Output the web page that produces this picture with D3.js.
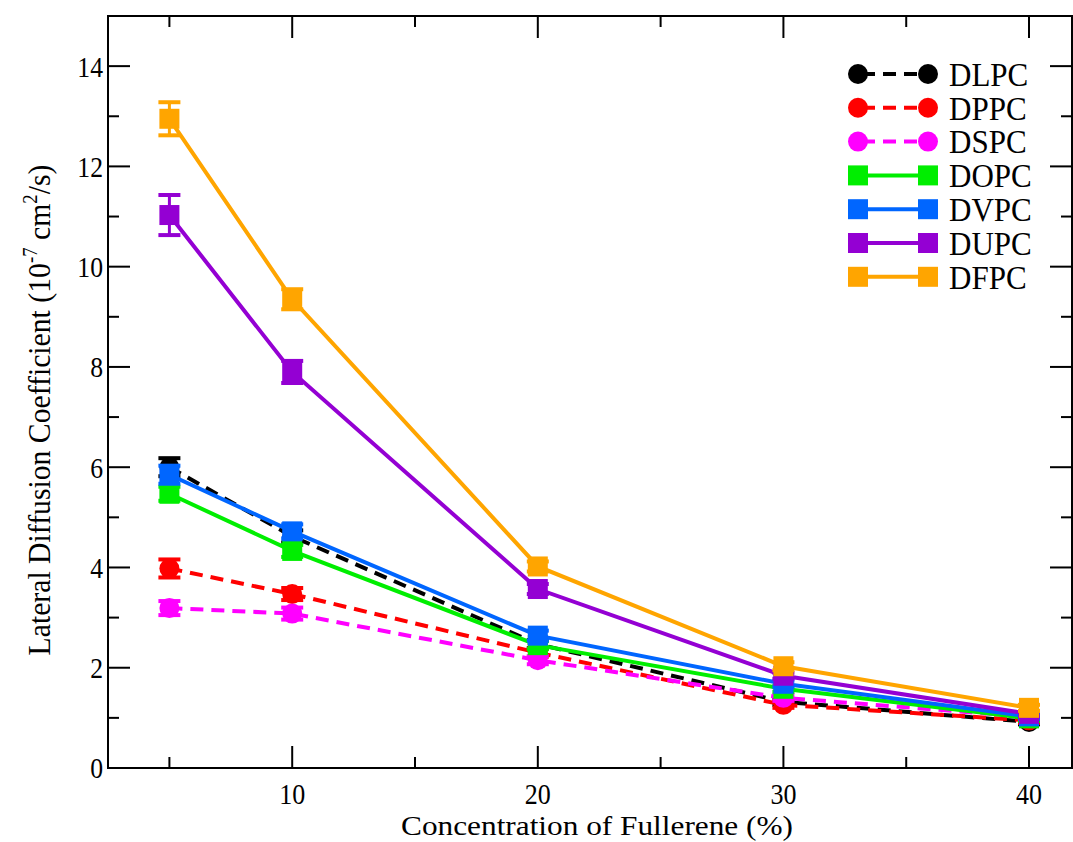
<!DOCTYPE html>
<html>
<head>
<meta charset="utf-8">
<script src="https://cdn.jsdelivr.net/npm/d3@7"></script>
<style>
  body { margin: 0; background: #fff; }
  svg { font-family: "Liberation Serif", "Times New Roman", serif; }
</style>
</head>
<body>
<div id="chart"></div>
<script>
// concentrations of fullerene (%)
var concentrations = [5, 10, 20, 30, 40];

var lipids = ["DLPC", "DPPC", "DSPC", "DOPC", "DVPC", "DUPC", "DFPC"];
var colors = ["#000000", "#ff0000", "#ff00ff", "#00ee00", "#0066ff", "#9400d3", "#ffa500"];
var markers = ["circle", "circle", "circle", "square", "square", "square", "square"];
var dashed = [true, true, true, false, false, false, false];

// lateral diffusion coefficient (10^-7 cm^2/s)
var dlpc = [6.00, 4.62, 2.47, 1.32, 0.92];
var dppc = [3.98, 3.47, 2.30, 1.26, 0.95];
var dspc = [3.19, 3.08, 2.15, 1.40, 1.02];
var dopc = [5.47, 4.33, 2.45, 1.58, 0.99];
var dvpc = [5.85, 4.72, 2.64, 1.68, 1.03];
var dupc = [11.03, 7.90, 3.57, 1.84, 1.08];
var dfpc = [12.95, 9.35, 4.02, 2.03, 1.20];

// error bars
var dlpcErr = [0.18, 0.12, 0.08, 0.06, 0.05];
var dppcErr = [0.18, 0.12, 0.08, 0.06, 0.05];
var dspcErr = [0.14, 0.12, 0.08, 0.06, 0.05];
var dopcErr = [0.14, 0.12, 0.08, 0.06, 0.05];
var dvpcErr = [0.18, 0.14, 0.10, 0.06, 0.05];
var dupcErr = [0.40, 0.22, 0.10, 0.06, 0.05];
var dfpcErr = [0.33, 0.20, 0.10, 0.08, 0.06];

var yTicks = [0, 2, 4, 6, 8, 10, 12, 14];
var xTicks = [10, 20, 30, 40];

var values = [dlpc, dppc, dspc, dopc, dvpc, dupc, dfpc];
var errors = [dlpcErr, dppcErr, dspcErr, dopcErr, dvpcErr, dupcErr, dfpcErr];

var series = lipids.map(function (name, i) {
    return {
        name: name,
        color: colors[i],
        marker: markers[i],
        dashed: dashed[i],
        points: concentrations.map(function (c, j) {
            return { x: c, y: values[i][j], e: errors[i][j] };
        })
    };
});

var width = 1073, height = 842;
var margins = { left: 108, right: 1, top: 16, bottom: 74 };

var svg = d3.select("#chart").append("svg")
    .attr("width", width)
    .attr("height", height);

var x = d3.scaleLinear().domain([2.5, 41.75]).range([margins.left, width - margins.right]);
var y = d3.scaleLinear().domain([0, 15]).range([height - margins.bottom, margins.top]);

// frame + ticks
var frame = svg.append("g");
frame.append("rect")
    .attr("x", x.range()[0]).attr("y", y.range()[1])
    .attr("width", x.range()[1] - x.range()[0])
    .attr("height", y.range()[0] - y.range()[1])
    .attr("fill", "none").attr("stroke", "#000").attr("stroke-width", 2);

var yMinor = d3.range(1, 15, 2);
var xMinor = [5, 15, 25, 35];

function ticksY(list, len) {
    list.forEach(function (v) {
        frame.append("line").attr("x1", x.range()[0]).attr("x2", x.range()[0] + len)
            .attr("y1", y(v)).attr("y2", y(v)).attr("stroke", "#000").attr("stroke-width", 2);
        frame.append("line").attr("x1", x.range()[1]).attr("x2", x.range()[1] - len)
            .attr("y1", y(v)).attr("y2", y(v)).attr("stroke", "#000").attr("stroke-width", 2);
    });
}
function ticksX(list, len) {
    list.forEach(function (v) {
        frame.append("line").attr("x1", x(v)).attr("x2", x(v))
            .attr("y1", y.range()[0]).attr("y2", y.range()[0] - len).attr("stroke", "#000").attr("stroke-width", 2);
        frame.append("line").attr("x1", x(v)).attr("x2", x(v))
            .attr("y1", y.range()[1]).attr("y2", y.range()[1] + len).attr("stroke", "#000").attr("stroke-width", 2);
    });
}
ticksY(yTicks.filter(function (v) { return v > 0; }), 22);
ticksY(yMinor, 11);
ticksX(xTicks, 22);
ticksX(xMinor, 11);

// tick labels
svg.append("g").selectAll("text").data(yTicks).enter().append("text")
    .attr("transform", function (d) { return "translate(103," + y(d) + ") scale(0.95,1.1)"; })
    .attr("dy", "0.35em")
    .attr("text-anchor", "end")
    .attr("font-size", 27)
    .text(function (d) { return d; });

svg.append("g").selectAll("text").data(xTicks).enter().append("text")
    .attr("transform", function (d) { return "translate(" + x(d) + ",804) scale(1,1.1)"; })
    .attr("text-anchor", "middle")
    .attr("font-size", 26)
    .text(function (d) { return d; });

svg.append("text")
    .attr("transform", "translate(597,835) scale(1.16,1)")
    .attr("text-anchor", "middle")
    .attr("font-size", 27)
    .text("Concentration of Fullerene (%)");

var yl = svg.append("text")
    .attr("transform", "translate(50,410) rotate(-90) scale(0.99,1.05)")
    .attr("text-anchor", "middle")
    .attr("font-size", 30);
yl.append("tspan").text("Lateral Diffusion Coefficient (10");
yl.append("tspan").attr("dy", -12).attr("font-size", 19).text("-7");
yl.append("tspan").attr("dy", 12).text(" cm");
yl.append("tspan").attr("dy", -12).attr("font-size", 19).text("2");
yl.append("tspan").attr("dy", 12).text("/s)");

var line = d3.line()
    .x(function (d) { return x(d.x); })
    .y(function (d) { return y(d.y); });

function drawMarker(g, type, cx, cy, color) {
    if (type === "circle") {
        g.append("circle").attr("cx", cx).attr("cy", cy).attr("r", 10).attr("fill", color);
    } else {
        g.append("rect").attr("x", cx - 10).attr("y", cy - 10).attr("width", 20).attr("height", 20).attr("fill", color);
    }
}

series.forEach(function (s) {
    var g = svg.append("g");
    g.append("path")
        .datum(s.points)
        .attr("d", line)
        .attr("fill", "none")
        .attr("stroke", s.color)
        .attr("stroke-width", 4)
        .attr("stroke-dasharray", s.dashed ? "13,8" : null);
    s.points.forEach(function (p) {
        var cx = x(p.x);
        g.append("line").attr("x1", cx).attr("x2", cx)
            .attr("y1", y(p.y - p.e)).attr("y2", y(p.y + p.e))
            .attr("stroke", s.color).attr("stroke-width", 3);
        [p.y - p.e, p.y + p.e].forEach(function (v) {
            g.append("line").attr("x1", cx - 11).attr("x2", cx + 11)
                .attr("y1", y(v)).attr("y2", y(v))
                .attr("stroke", s.color).attr("stroke-width", 4);
        });
        drawMarker(g, s.marker, cx, y(p.y), s.color);
    });
});

// legend
var legend = svg.append("g");
series.forEach(function (s, i) {
    var ly = 74 + i * 33.8;
    legend.append("line")
        .attr("x1", 858).attr("x2", 928).attr("y1", ly).attr("y2", ly)
        .attr("stroke", s.color).attr("stroke-width", 4)
        .attr("stroke-dasharray", s.dashed ? "13,8" : null)
        .attr("stroke-dashoffset", s.dashed ? -4 : null);
    drawMarker(legend, s.marker, 858, ly, s.color);
    drawMarker(legend, s.marker, 928, ly, s.color);
    legend.append("text")
        .attr("transform", "translate(949," + ly + ") scale(0.97,1.05)")
        .attr("dy", "0.35em")
        .attr("font-size", 32)
        .text(s.name);
});
</script>
</body>
</html>
